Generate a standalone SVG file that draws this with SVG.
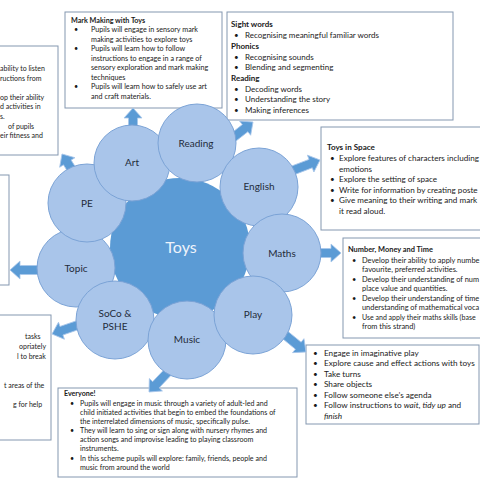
<svg xmlns="http://www.w3.org/2000/svg" width="480" height="480" viewBox="0 0 480 480">
<defs>
<style>
.box{fill:#ffffff;stroke:#8497b0;stroke-width:1}
.t{font-family:Lato,"Liberation Sans",sans-serif;fill:#1a1a1a}
.b{font-weight:bold}
.c{fill:#a9c5ea;stroke:#7ba3d6;stroke-width:1}
.lbl{font-family:Lato,"Liberation Sans",sans-serif;font-size:10px;fill:#1f2b3a;text-anchor:middle}
.arr{fill:#5b9bd5;stroke:#a8c6ea;stroke-width:0.8}
</style>
</defs>
<rect width="480" height="480" fill="#ffffff"/>

<g id="box-topleft">
<rect class="box" x="-10" y="46" width="68" height="109"/>
<g class="t" font-size="7">
<text x="0" y="70.5">ability to listen</text>
<text x="0" y="80.5">ructions from</text>
<text x="0" y="99.5">op their ability</text>
<text x="0" y="109">d activities in</text>
<text x="0" y="118.5">s.</text>
<text x="8" y="128.5">of pupils</text>
<text x="0" y="138">eir fitness and</text>
</g>
</g>

<g id="box-art">
<rect class="box" x="65" y="12" width="157" height="96"/>
<g class="t" font-size="7.2">
<text class="b" x="71" y="23">Mark Making with Toys</text>
<text x="74" y="32">•</text><text x="91" y="32">Pupils will engage in sensory mark</text>
<text x="91" y="41.5">making activities to explore toys</text>
<text x="74" y="51">•</text><text x="91" y="51">Pupils will learn how to follow</text>
<text x="91" y="60.5">instructions to engage in a range of</text>
<text x="91" y="70">sensory exploration and mark making</text>
<text x="91" y="79.5">techniques</text>
<text x="74" y="89">•</text><text x="91" y="89">Pupils will learn how to safely use art</text>
<text x="91" y="98.5">and craft materials.</text>
</g>
</g>

<g id="box-reading">
<rect class="box" x="227" y="12" width="226" height="108"/>
<g class="t" font-size="8">
<text class="b" x="231" y="27">Sight words</text>
<text x="234" y="38">•</text><text x="245" y="38">Recognising meaningful familiar words</text>
<text class="b" x="231" y="49">Phonics</text>
<text x="234" y="59.5">•</text><text x="245" y="59.5">Recognising sounds</text>
<text x="234" y="70">•</text><text x="245" y="70">Blending and segmenting</text>
<text class="b" x="231" y="81">Reading</text>
<text x="234" y="91.5">•</text><text x="245" y="91.5">Decoding words</text>
<text x="234" y="102">•</text><text x="245" y="102">Understanding the story</text>
<text x="234" y="112.5">•</text><text x="245" y="112.5">Making inferences</text>
</g>
</g>

<g id="box-english">
<rect class="box" x="321" y="127" width="170" height="103"/>
<g class="t" font-size="8.1">
<text class="b" x="327" y="150">Toys in Space</text>
<text x="330" y="161">•</text><text x="339" y="161">Explore features of characters including</text>
<text x="339" y="171.5">emotions</text>
<text x="330" y="182">•</text><text x="339" y="182">Explore the setting of space</text>
<text x="330" y="192.5">•</text><text x="339" y="192.5">Write for information by creating poste</text>
<text x="330" y="203">•</text><text x="339" y="203">Give meaning to their writing and mark</text>
<text x="339" y="213.5">it read aloud.</text>
</g>
</g>

<g id="box-maths">
<rect class="box" x="343" y="238" width="150" height="100"/>
<g class="t" font-size="7.4">
<text class="b" x="348" y="252">Number, Money and Time</text>
<text x="352" y="262.5">•</text><text x="362" y="262.5">Develop their ability to apply numbe</text>
<text x="362" y="272">favourite, preferred activities.</text>
<text x="352" y="281.5">•</text><text x="362" y="281.5">Develop their understanding of num</text>
<text x="362" y="291">place value and quantities.</text>
<text x="352" y="300.5">•</text><text x="362" y="300.5">Develop their understanding of time</text>
<text x="362" y="310">understanding of mathematical voca</text>
<text x="352" y="319.5">•</text><text x="362" y="319.5" font-size="7">Use and apply their maths skills (base</text>
<text x="362" y="329">from this strand)</text>
</g>
</g>

<g id="box-play">
<rect class="box" x="306" y="345" width="173" height="79"/>
<g class="t" font-size="8.2">
<text x="313" y="355.5">•</text><text x="324" y="355.5">Engage in imaginative play</text>
<text x="313" y="366">•</text><text x="324" y="366">Explore cause and effect actions with toys</text>
<text x="313" y="376.5">•</text><text x="324" y="376.5">Take turns</text>
<text x="313" y="387">•</text><text x="324" y="387">Share objects</text>
<text x="313" y="397.5">•</text><text x="324" y="397.5">Follow someone else’s agenda</text>
<text x="313" y="408">•</text><text x="324" y="408">Follow instructions to <tspan font-style="italic">wait</tspan>, <tspan font-style="italic">tidy up</tspan> and</text>
<text x="324" y="418.5" font-style="italic">finish</text>
</g>
</g>

<g id="box-music">
<rect class="box" x="58" y="388" width="239" height="89"/>
<g class="t" font-size="7.1">
<text class="b" x="64" y="396">Everyone!</text>
<text x="70" y="405.5">•</text><text x="80" y="405.5">Pupils will engage in music through a variety of adult-led and</text>
<text x="80" y="414.5">child initiated activities that begin to embed the foundations of</text>
<text x="80" y="423.5">the interrelated dimensions of music, specifically pulse.</text>
<text x="70" y="433">•</text><text x="80" y="433">They will learn to sing or sign along with nursery rhymes and</text>
<text x="80" y="442">action songs and improvise leading to playing classroom</text>
<text x="80" y="451">instruments.</text>
<text x="70" y="461">•</text><text x="80" y="461">In this scheme pupils will explore: family, friends, people and</text>
<text x="80" y="470">music from around the world</text>
</g>
</g>

<g id="box-topic">
<rect class="box" x="-10" y="175" width="19" height="110"/>
</g>

<g id="box-psed">
<rect class="box" x="-10" y="315" width="61" height="125"/>
<g class="t" font-size="7">
<text x="25" y="339">tasks</text>
<text x="19" y="349">opriately</text>
<text x="17" y="359">l to break</text>
<text x="4" y="388">t areas of the</text>
<text x="13" y="407">g for help</text>
</g>
</g>

<g id="connectors">
<polygon class="arr" points="-22,-4.5 -10,-4.5 -10,-9 0,0 -10,9 -10,4.5 -22,4.5" transform="translate(133,108) rotate(-90)"/>
<polygon class="arr" points="-26,-4.5 -10,-4.5 -10,-9 0,0 -10,9 -10,4.5 -26,4.5" transform="translate(253,122) rotate(-38)"/>
<polygon class="arr" points="-30,-4.5 -10,-4.5 -10,-9 0,0 -10,9 -10,4.5 -30,4.5" transform="translate(320,160) rotate(-21)"/>
<polygon class="arr" points="-25,-4.5 -10,-4.5 -10,-9 0,0 -10,9 -10,4.5 -25,4.5" transform="translate(341,253)"/>
<polygon class="arr" points="-31,-4.5 -10,-4.5 -10,-9 0,0 -10,9 -10,4.5 -31,4.5" transform="translate(306,352) rotate(39.3)"/>
<polygon class="arr" points="-31,-4.5 -10,-4.5 -10,-9 0,0 -10,9 -10,4.5 -31,4.5" transform="translate(149,392) rotate(133.5)"/>
<polygon class="arr" points="-30,-4.5 -10,-4.5 -10,-9 0,0 -10,9 -10,4.5 -30,4.5" transform="translate(52,334) rotate(160.9)"/>
<polygon class="arr" points="-29,-4.5 -10,-4.5 -10,-9 0,0 -10,9 -10,4.5 -29,4.5" transform="translate(10,270) rotate(180)"/>
<polygon class="arr" points="-22,-4.5 -10,-4.5 -10,-9 0,0 -10,9 -10,4.5 -22,4.5" transform="translate(62,154) rotate(-122)"/>
</g>

<g id="hub">
<circle cx="180" cy="248" r="70" fill="#5b9bd5"/>
<text x="181" y="253" font-family="Lato,'Liberation Sans',sans-serif" font-size="16" fill="#eef3fb" text-anchor="middle">Toys</text>
</g>

<g id="node-topic"><circle class="c" cx="76" cy="268" r="39"/><text class="lbl" x="76" y="272">Topic</text></g>
<g id="node-pe"><circle class="c" cx="87" cy="203" r="39"/><text class="lbl" x="87" y="207">PE</text></g>
<g id="node-art"><circle class="c" cx="132" cy="163" r="38"/><text class="lbl" x="132" y="166">Art</text></g>
<g id="node-reading"><circle class="c" cx="197" cy="143" r="39"/><text class="lbl" x="196" y="147">Reading</text></g>
<g id="node-english"><circle class="c" cx="259" cy="187" r="39"/><text class="lbl" x="259" y="190">English</text></g>
<g id="node-maths"><circle class="c" cx="282" cy="253" r="39"/><text class="lbl" x="282" y="257">Maths</text></g>
<g id="node-soco"><circle class="c" cx="115" cy="320" r="39"/><text class="lbl" x="115" y="317">SoCo &amp;</text><text class="lbl" x="115" y="330">PSHE</text></g>
<g id="node-music"><circle class="c" cx="187" cy="340" r="39"/><text class="lbl" x="187" y="343">Music</text></g>
<g id="node-play"><circle class="c" cx="253" cy="315" r="39"/><text class="lbl" x="253" y="318">Play</text></g>
</svg>
